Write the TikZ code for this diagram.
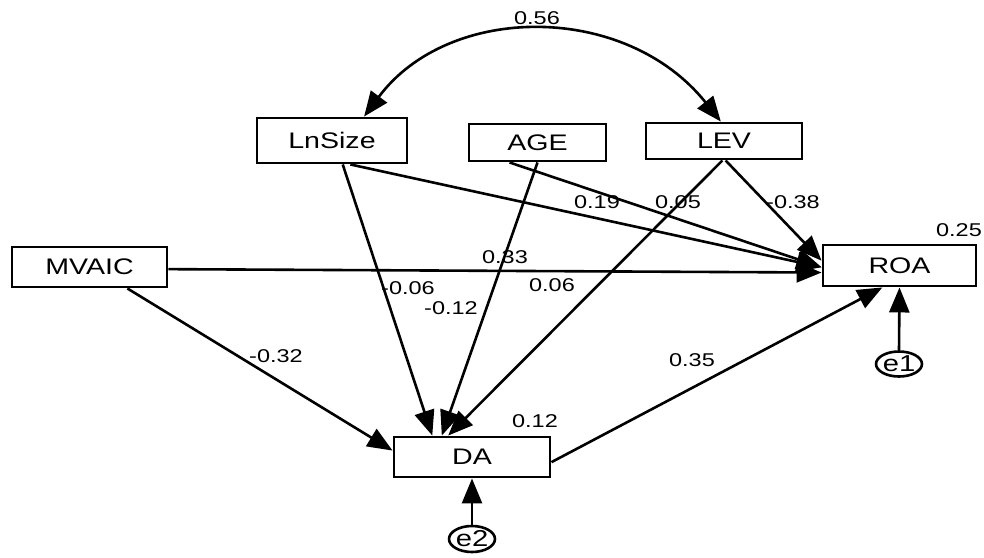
\documentclass[tikz,border=0pt]{standalone}
\usepackage{fontspec}
\setmainfont[FakeStretch=1.27]{Liberation Sans}
\usetikzlibrary{arrows.meta,shapes.geometric,calc}
\begin{document}
\begin{tikzpicture}[x=1pt,y=-1pt,
  varbox/.style={draw,line width=2.9pt,inner sep=0pt,font=\fontsize{22.5}{26}\selectfont},
  errnode/.style={draw,ellipse,line width=2.6pt,inner sep=0pt,font=\fontsize{23}{24}\selectfont},
  lbl/.style={inner sep=0pt,font=\fontsize{18.5}{22}\selectfont},
  conn/.style={line width=2.6pt,-{Triangle[length=25pt,width=20pt]}},
  biconn/.style={line width=2.6pt,{Triangle[length=25pt,width=20pt]}-{Triangle[length=25pt,width=20pt]}}
]
\useasboundingbox (0,0) rectangle (984,557);
% variables
\node[varbox,minimum width=150pt,minimum height=45pt] (ln) at (332,140.5) {LnSize};
\node[varbox,minimum width=137pt,minimum height=37pt] (age) at (537.5,142.5) {AGE};
\node[varbox,minimum width=156pt,minimum height=36pt] (lev) at (724,141) {LEV};
\node[varbox,minimum width=155pt,minimum height=40pt] (mv) at (89.5,267) {MVAIC};
\node[varbox,minimum width=153pt,minimum height=41pt] (roa) at (899.5,265.5) {ROA};
\node[varbox,minimum width=156pt,minimum height=40pt] (da) at (472,457) {DA};
\node[errnode,minimum width=41pt,minimum height=25pt] (e1) at (899,364) {e1};
\node[errnode,minimum width=40pt,minimum height=26pt] (e2) at (472,539) {e2};
% covariance arc
\draw[biconn] ($(ln.north west)!0.71!(ln.north east)$) .. controls +(85,-114) and +(-95,-119) .. ($(lev.north west)!0.48!(lev.north east)$);
% paths to ROA
\draw[conn] ($(ln.south west)!0.62!(ln.south east)$) -- ($(roa.north west)!0.54!(roa.south west)$);
\draw[conn] ($(age.south west)!0.30!(age.south east)$) -- ($(roa.north west)!0.54!(roa.south west)$);
\draw[conn] ($(lev.south west)!0.51!(lev.south east)$) -- ($(roa.north west)!0.39!(roa.south west)$);
\draw[conn] ($(mv.north east)!0.55!(mv.south east)$) -- ($(roa.north west)!0.66!(roa.south west)$);
\draw[conn] ($(da.north east)!0.62!(da.south east)$) -- ($(roa.south west)!0.39!(roa.south east)$);
\draw[conn] (e1.north) -- (roa.south);
% paths to DA
\draw[conn] ($(ln.south west)!0.57!(ln.south east)$) -- ($(da.north west)!0.25!(da.north east)$);
\draw[conn] ($(age.south west)!0.50!(age.south east)$) -- ($(da.north west)!0.31!(da.north east)$);
\draw[conn] ($(lev.south west)!0.49!(lev.south east)$) -- ($(da.north west)!0.35!(da.north east)$);
\draw[conn] ($(mv.south west)!0.74!(mv.south east)$) -- ($(da.north west)!0.35!(da.south west)$);
\draw[conn] (e2.north) -- (da.south);
% labels
\node[lbl] (l056) at (537,18) {0.56};
\node[lbl] (l019) at (597,202) {0.19};
\node[lbl] (l005) at (678,202) {0.05};
\node[lbl] (l038) at (793,202) {-0.38};
\node[lbl] (l025) at (959,230) {0.25};
\node[lbl] (l033) at (505,257) {0.33};
\node[lbl] (l006) at (552,285) {0.06};
\node[lbl] (lm006) at (408,288) {-0.06};
\node[lbl] (lm012) at (451,308) {-0.12};
\node[lbl] (lm032) at (276,356) {-0.32};
\node[lbl] (l012) at (535,421) {0.12};
\node[lbl] (l035) at (692,360) {0.35};
\end{tikzpicture}
\end{document}
